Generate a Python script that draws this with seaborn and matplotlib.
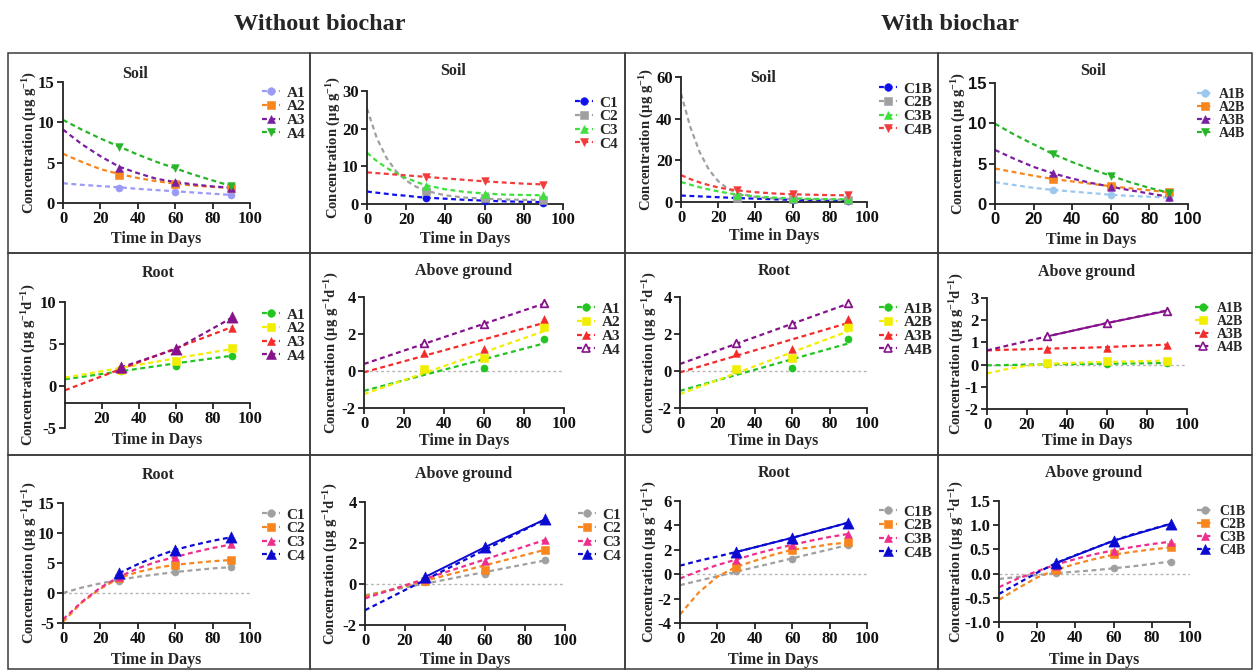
import numpy as np
import pandas as pd
import matplotlib
matplotlib.use('Agg')
import matplotlib.pyplot as plt
import seaborn as sns
from matplotlib.lines import Line2D
from matplotlib.patches import Rectangle

days = [30, 60, 90]
fit_days = [0, 10, 20, 30, 40, 50, 60, 70, 80, 90]
fit_days_fast = [0, 5, 10, 15, 20, 25, 30, 40, 50, 60, 70, 80, 90]
root_days = [0, 30, 60, 90]
line_days = [0, 90]
nan = np.nan

# ---------------- row 1 : soil ----------------
soil_a_labels = ['A1', 'A2', 'A3', 'A4']
soil_a_pts = [[1.9, 1.4, 1.0], [3.5, 2.3, 1.8], [4.4, 2.6, 1.9], [7.0, 4.3, 2.1]]
soil_a_fit = [[2.45, 2.25, 2.1, 1.95, 1.75, 1.6, 1.45, 1.3, 1.15, 1.0],
              [6.1, 5.1, 4.2, 3.6, 3.1, 2.7, 2.4, 2.15, 2.0, 1.85],
              [9.1, 7.3, 5.8, 4.5, 3.7, 3.0, 2.6, 2.3, 2.05, 1.9],
              [10.3, 9.1, 8.0, 7.0, 6.0, 5.1, 4.3, 3.5, 2.8, 2.1]]

soil_c_labels = ['C1', 'C2', 'C3', 'C4']
soil_c_pts = [[1.6, 0.7, 0.3], [3.5, 1.6, 1.1], [4.8, 2.7, 2.3], [7.1, 6.0, 5.1]]
soil_c_fit = [[3.3, 3.0, 2.7, 2.4, 2.2, 1.9, 1.7, 1.4, 1.1, 0.9, 0.7, 0.6, 0.5],
              [25.3, 17.5, 12.2, 8.6, 6.2, 4.6, 3.5, 2.3, 1.7, 1.4, 1.2, 1.1, 1.1],
              [13.6, 11.4, 9.6, 8.1, 6.9, 5.9, 5.0, 3.9, 3.2, 2.8, 2.5, 2.4, 2.3],
              [8.4, 8.2, 8.0, 7.8, 7.6, 7.4, 7.2, 6.8, 6.4, 6.0, 5.7, 5.4, 5.2]]

soil_cb_labels = ['C1B', 'C2B', 'C3B', 'C4B']
soil_cb_pts = [[1.8, 1.0, 0.5], [2.0, 1.4, 1.2], [3.5, 1.8, 1.3], [5.6, 3.7, 3.2]]
soil_cb_fit = [[3.1, 2.9, 2.7, 2.5, 2.3, 2.1, 1.9, 1.6, 1.3, 1.0, 0.8, 0.6, 0.5],
               [52, 36, 24, 15.5, 10, 6.5, 4.3, 2.4, 1.7, 1.4, 1.3, 1.2, 1.2],
               [9.6, 8.3, 7.1, 6.0, 5.1, 4.3, 3.6, 2.7, 2.1, 1.8, 1.5, 1.4, 1.3],
               [12.9, 11.0, 9.4, 8.1, 7.0, 6.2, 5.6, 4.7, 4.1, 3.7, 3.5, 3.3, 3.2]]

soil_ab_labels = ['A1B', 'A2B', 'A3B', 'A4B']
soil_ab_pts = [[1.7, 1.1, 0.8], [3.1, 2.2, 1.45], [3.8, 2.15, 0.9], [6.2, 3.5, 1.4]]
soil_ab_fit = [[2.7, 2.35, 2.0, 1.75, 1.55, 1.35, 1.15, 1.0, 0.9, 0.8],
               [4.4, 3.95, 3.5, 3.1, 2.8, 2.5, 2.2, 1.95, 1.7, 1.45],
               [6.7, 5.6, 4.6, 3.8, 3.15, 2.6, 2.15, 1.7, 1.3, 0.9],
               [9.95, 8.6, 7.4, 6.2, 5.2, 4.3, 3.5, 2.7, 2.0, 1.4]]

# ---------------- row 2 : A compounds in plant ----------------
root_a_labels = ['A1', 'A2', 'A3', 'A4']
root_a_pts = [[1.8, 2.4, 3.6], [1.9, 3.0, 4.5], [2.0, 4.3, 6.9], [2.3, 4.4, 8.2]]
root_a_fit = [[0.8, 1.75, 2.7, 3.6],
              [1.0, 2.15, 3.3, 4.4],
              [-0.5, 2.0, 4.5, 7.0],
              [nan, 2.2, 4.4, 8.1]]

above_a_labels = ['A1', 'A2', 'A3', 'A4']
above_a_pts = [[0.05, 0.15, 1.75], [0.09, 0.68, 2.38], [1.0, 1.18, 2.83], [1.49, 2.53, 3.69]]
above_a_fit = [[-1.07, 1.49], [-1.25, 2.15], [-0.07, 2.6], [0.38, 3.64]]

root_ab_labels = ['A1B', 'A2B', 'A3B', 'A4B']
root_ab_pts = [[0.05, 0.15, 1.75], [0.09, 0.68, 2.38], [1.0, 1.18, 2.83], [1.49, 2.53, 3.69]]
root_ab_fit = [[-1.07, 1.49], [-1.25, 2.15], [-0.07, 2.6], [0.38, 3.64]]

above_ab_labels = ['A1B', 'A2B', 'A3B', 'A4B']
above_ab_pts = [[0.02, 0.04, 0.05], [0.07, 0.15, 0.18], [0.72, 0.76, 0.9], [1.27, 1.87, 2.42]]
above_ab_fit = [[-0.03, -0.02, 0.0, 0.01, 0.02, 0.03, 0.04, 0.05, 0.06, 0.07],
                [-0.4, -0.2, -0.05, 0.03, 0.07, 0.1, 0.12, 0.14, 0.16, 0.18],
                [0.64, 0.67, 0.69, 0.72, 0.74, 0.76, 0.79, 0.83, 0.86, 0.9],
                [0.64, 0.85, 1.06, 1.27, 1.47, 1.67, 1.87, 2.06, 2.25, 2.44]]

# ---------------- row 3 : C compounds in plant ----------------
root_c_labels = ['C1', 'C2', 'C3', 'C4']
root_c_pts = [[2.05, 3.45, 4.3], [2.5, 4.7, 5.5], [2.6, 6.05, 8.15], [3.3, 7.2, 9.3]]
root_c_fit = [[0.0, 0.9, 1.6, 2.2, 2.7, 3.1, 3.5, 3.8, 4.1, 4.3],
              [-4.8, -1.6, 0.7, 2.5, 3.5, 4.2, 4.7, 5.0, 5.3, 5.5],
              [-4.4, -1.5, 0.9, 2.7, 4.1, 5.2, 6.0, 6.8, 7.5, 8.1],
              [nan, nan, nan, 3.3, 4.8, 6.1, 7.2, 8.0, 8.7, 9.3]]

above_c_labels = ['C1', 'C2', 'C3', 'C4']
above_c_pts = [[0.1, 0.5, 1.15], [0.13, 0.67, 1.68], [0.25, 1.1, 2.15], [0.34, 1.8, 3.15]]
above_c_fit = [[-0.55, 1.15], [-0.6, 1.67], [-0.7, 2.15], [-1.28, 3.15]]

root_cb_labels = ['C1B', 'C2B', 'C3B', 'C4B']
root_cb_pts = [[0.27, 1.23, 2.4], [0.55, 1.95, 2.6], [1.2, 2.4, 3.3], [1.82, 2.98, 4.23]]
root_cb_fit = [[-0.9, -0.53, -0.17, 0.2, 0.57, 0.93, 1.3, 1.67, 2.03, 2.4],
               [-3.3, -1.5, -0.2, 0.6, 1.1, 1.6, 2.0, 2.2, 2.45, 2.6],
               [-0.35, 0.25, 0.75, 1.2, 1.65, 2.05, 2.4, 2.75, 3.05, 3.3],
               [0.7, 1.1, 1.45, 1.82, 2.2, 2.6, 2.98, 3.4, 3.8, 4.23]]

above_cb_labels = ['C1B', 'C2B', 'C3B', 'C4B']
above_cb_pts = [[0.01, 0.11, 0.25], [0.07, 0.4, 0.54], [0.15, 0.47, 0.66], [0.22, 0.68, 1.03]]
above_cb_fit = [[-0.11, -0.07, -0.03, 0.01, 0.04, 0.07, 0.11, 0.15, 0.2, 0.25],
                [-0.54, -0.3, -0.08, 0.08, 0.2, 0.3, 0.39, 0.45, 0.5, 0.54],
                [-0.28, -0.1, 0.05, 0.19, 0.3, 0.4, 0.48, 0.55, 0.61, 0.66],
                [-0.42, -0.2, 0.02, 0.22, 0.38, 0.53, 0.68, 0.81, 0.92, 1.03]]

# colours
col_soil_a = ['#9b9bf5', '#f7861e', '#7b1fa2', '#27b427']
col_soil_c = ['#1010ee', '#a0a0a0', '#3ee03e', '#f23c3c']
col_soil_ab = ['#9cc8f0', '#f7861e', '#7b1fa2', '#27b427']
col_plant_a = ['#22c422', '#f2ee00', '#f52a2a', '#86138c']
col_plant_c = ['#a0a0a0', '#f7861e', '#ee2e8c', '#0a0ad0']
mk_soil = ['o', 's', '^', 'v']
mk_plant = ['o', 's', '^', '^']

sns.set_style('ticks')
plt.rcParams['font.family'] = ['Liberation Serif', 'DejaVu Serif']
plt.rcParams['font.weight'] = 'bold'
plt.rcParams['axes.labelweight'] = 'bold'
plt.rcParams['axes.unicode_minus'] = False
plt.rcParams['mathtext.fontset'] = 'custom'
plt.rcParams['mathtext.rm'] = 'Liberation Serif:bold'
plt.rcParams['mathtext.bf'] = 'Liberation Serif:bold'
plt.rcParams['mathtext.default'] = 'bf'

soil_lab = 'Concentration (µg g$^{-1}$)'
plant_lab = 'Concentration (µg g$^{-1}$d$^{-1}$)'
xt = [0, 20, 40, 60, 80, 100]

panels = [
    dict(box=(63, 250, 82, 203), ylim=(0, 15), yt=[0, 5, 10, 15], title='Soil', tpos=(135, 74),
         ylab=soil_lab, ylx=30, xly=231, leg=(262, 86), labels=soil_a_labels, pts=soil_a_pts,
         fx=fit_days, fit=soil_a_fit, cols=col_soil_a, mks=mk_soil),
    dict(box=(367, 563, 91, 204), ylim=(0, 30), yt=[0, 10, 20, 30], title='Soil', tpos=(453, 71),
         ylab=soil_lab, ylx=334, xly=231, leg=(575, 96), labels=soil_c_labels, pts=soil_c_pts,
         fx=fit_days_fast, fit=soil_c_fit, cols=col_soil_c, mks=mk_soil),
    dict(box=(681, 867, 77, 202), ylim=(0, 60), yt=[0, 20, 40, 60], title='Soil', tpos=(763, 78),
         ylab=soil_lab, ylx=647, xly=228, leg=(879, 82), labels=soil_cb_labels, pts=soil_cb_pts,
         fx=fit_days_fast, fit=soil_cb_fit, cols=col_soil_c, mks=mk_soil),
    dict(box=(995, 1188, 83, 204), ylim=(0, 15), yt=[0, 5, 10, 15], title='Soil', tpos=(1093, 71),
         ylab=soil_lab, ylx=959, xly=232, leg=(1197, 88), labels=soil_ab_labels, pts=soil_ab_pts,
         fx=fit_days, fit=soil_ab_fit, cols=col_soil_ab, mks=mk_soil, sans=True, lfs=10),
    dict(box=(65, 250, 302, 428), ylim=(-5, 10), yt=[-5, 0, 5, 10], title='Root', tpos=(158, 273),
         ylab=plant_lab, ylx=29, xly=432, leg=(262, 308), labels=root_a_labels, pts=root_a_pts,
         fx=root_days, fit=root_a_fit, cols=col_plant_a, mks=mk_plant, big=[3], xaxis_at=-2,
         xt=[20, 40, 60, 80, 100]),
    dict(box=(364, 564, 297, 408), ylim=(-2, 4), yt=[-2, 0, 2, 4], title='Above ground', tpos=(464, 271),
         ylab=plant_lab, ylx=332, xly=433, leg=(577, 302), labels=above_a_labels, pts=above_a_pts,
         fx=line_days, fit=above_a_fit, cols=col_plant_a, mks=mk_plant, opn=[3], zero=True),
    dict(box=(680, 867, 297, 408), ylim=(-2, 4), yt=[-2, 0, 2, 4], title='Root', tpos=(774, 271),
         ylab=plant_lab, ylx=650, xly=433, leg=(879, 302), labels=root_ab_labels, pts=root_ab_pts,
         fx=line_days, fit=root_ab_fit, cols=col_plant_a, mks=mk_plant, opn=[3], zero=True),
    dict(box=(987, 1187, 298, 409), ylim=(-2, 3), yt=[-2, -1, 0, 1, 2, 3], title='Above ground',
         tpos=(1087, 272), ylab=plant_lab, ylx=957, xly=433, leg=(1195, 302), labels=above_ab_labels,
         pts=above_ab_pts, fx=fit_days, fit=above_ab_fit, cols=col_plant_a, mks=mk_plant, opn=[3],
         solid=[3], zero=True, lfs=10),
    dict(box=(63, 250, 503, 623), ylim=(-5, 15), yt=[-5, 0, 5, 10, 15], title='Root', tpos=(158, 475),
         ylab=plant_lab, ylx=30, xly=652, leg=(262, 508), labels=root_c_labels, pts=root_c_pts,
         fx=fit_days, fit=root_c_fit, cols=col_plant_c, mks=mk_plant, big=[3], zero=True),
    dict(box=(365, 565, 502, 625), ylim=(-2, 4), yt=[-2, 0, 2, 4], title='Above ground', tpos=(464, 474),
         ylab=plant_lab, ylx=331, xly=652, leg=(578, 508), labels=above_c_labels, pts=above_c_pts,
         fx=line_days, fit=above_c_fit, cols=col_plant_c, mks=mk_plant, big=[3], solid=[3], zero=True),
    dict(box=(680, 867, 501, 623), ylim=(-4, 6), yt=[-4, -2, 0, 2, 4, 6], title='Root', tpos=(774, 473),
         ylab=plant_lab, ylx=650, xly=652, leg=(879, 505), labels=root_cb_labels, pts=root_cb_pts,
         fx=fit_days, fit=root_cb_fit, cols=col_plant_c, mks=mk_plant, big=[3], solid=[3], zero=True),
    dict(box=(999, 1190, 501, 622), ylim=(-1, 1.5), yt=[-1, -0.5, 0, 0.5, 1, 1.5], title='Above ground',
         tpos=(1094, 473), ylab=plant_lab, ylx=957, xly=652, leg=(1197, 505), labels=above_cb_labels,
         pts=above_cb_pts, fx=fit_days, fit=above_cb_fit, cols=col_plant_c, mks=mk_plant, big=[3],
         solid=[3], zero=True, lfs=10),
]

W, H = 1253, 670
fig = plt.figure(figsize=(W / 100, H / 100), dpi=100)
dash = (0, (2.2, 1.6))

# panel frames
col_edges = [8, 310, 625, 938, 1252]
row_edges = [53, 253, 455, 669]
for r in range(3):
    for c in range(4):
        x0, x1 = col_edges[c], col_edges[c + 1]
        y0, y1 = row_edges[r], row_edges[r + 1]
        fig.add_artist(Rectangle((x0 / W, 1 - y1 / H), (x1 - x0) / W, (y1 - y0) / H,
                                 transform=fig.transFigure, fill=False, ec='#3a3a3a', lw=1.1))

fig.text(320 / W, 1 - 25 / H, 'Without biochar', ha='center', va='center', fontsize=17.5, weight='bold')
fig.text(950 / W, 1 - 25 / H, 'With biochar', ha='center', va='center', fontsize=17.5, weight='bold')

for p in panels:
    x0, x1, yt, yb = p['box']
    ax = fig.add_axes([x0 / W, 1 - yb / H, (x1 - x0) / W, (yb - yt) / H])
    ax.set_facecolor('none')
    big, opn, solid = p.get('big', []), p.get('opn', []), p.get('solid', [])
    if p.get('zero'):
        ax.axhline(0, color='#b5b5b5', lw=1.0, linestyle=(0, (2, 2)), zorder=1)
    handles = []
    for i, lab in enumerate(p['labels']):
        c = p['cols'][i]
        fy = np.array(p['fit'][i], dtype=float)
        fx = np.array(p['fx'], dtype=float)
        ok = ~np.isnan(fy)
        sns.lineplot(x=fx[ok], y=fy[ok], ax=ax, color=c, linestyle=dash, linewidth=1.6, zorder=2)
        if i in solid:
            sns.lineplot(x=days, y=p['pts'][i], ax=ax, color=c, linewidth=1.4, zorder=2)
        mk = p['mks'][i]
        size = 65 if i in big else (30 if mk in ('^', 'v') else 26)
        face = 'white' if i in opn else c
        sns.scatterplot(x=days, y=p['pts'][i], ax=ax, marker=mk, s=size, color=face, edgecolor=c,
                        linewidth=1.3 if i in opn else 0.4, zorder=3, clip_on=False, legend=False)
        handles.append(Line2D([], [], color=c, linestyle=dash, lw=1.6, marker=mk,
                              markersize=7 if i in big else 5.5, markerfacecolor=face,
                              markeredgecolor=c, markeredgewidth=1.2 if i in opn else 0.4))
    ax.set_xlim(0, 100)
    ax.set_ylim(*p['ylim'])
    ax.set_xticks(p.get('xt', xt))
    ax.set_yticks(p['yt'])
    sns.despine(ax=ax)
    for s in ('left', 'bottom'):
        ax.spines[s].set_linewidth(1.3)
        ax.spines[s].set_color('#222222')
    if 'xaxis_at' in p:
        ax.spines['bottom'].set_position(('data', p['xaxis_at']))
    ax.tick_params(direction='out', length=4, width=1.2, labelsize=12, pad=2, colors='#111111')
    if p.get('sans'):
        for t in ax.get_xticklabels() + ax.get_yticklabels():
            t.set_fontfamily('Liberation Sans')
            t.set_fontsize(12)
    ax.set_xlabel('Time in Days', fontsize=11.5)
    ax.xaxis.set_label_coords(0.5, (yb - p['xly']) / (yb - yt))
    ax.set_ylabel(p['ylab'], fontsize=10.5, va='center')
    ax.yaxis.set_label_coords((p['ylx'] - x0) / (x1 - x0), 0.5)
    tx, ty = p['tpos']
    fig.text(tx / W, 1 - ty / H, p['title'], ha='center', va='center', fontsize=11.5, weight='bold')
    lx, ly = p['leg']
    ax.legend(handles, p['labels'], loc='upper left', bbox_to_anchor=(lx / W, 1 - ly / H),
              bbox_transform=fig.transFigure, frameon=False, fontsize=p.get('lfs', 11),
              handlelength=1.2, handletextpad=0.4, labelspacing=0.0, borderaxespad=0, borderpad=0)

fig.savefig('out.png', dpi=100)
